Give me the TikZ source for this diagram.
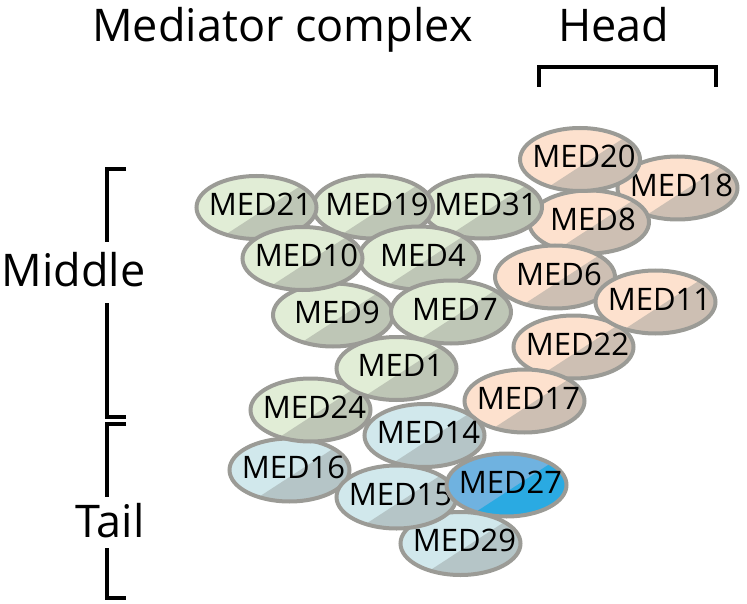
\documentclass[tikz,border=0pt]{standalone}
\usepackage{fontspec}
\setmainfont{Open Sans}
\usetikzlibrary{shapes.geometric}

\definecolor{rim}{HTML}{9B9B96}
\definecolor{greenL}{HTML}{E1EDD6}
\definecolor{greenD}{HTML}{BEC6B6}
\definecolor{peachL}{HTML}{FDE1CE}
\definecolor{peachD}{HTML}{CDBFB3}
\definecolor{blueL}{HTML}{D1E8EC}
\definecolor{blueD}{HTML}{B5C5C7}
\definecolor{deepL}{HTML}{6FB2E0}
\definecolor{deepD}{HTML}{2AAAE2}

\newcommand\medfont{\fontsize{31}{36}\selectfont}
\newcommand\bigfont{\fontsize{45}{52}\selectfont}

\tikzset{
  blob/.style={ellipse, draw=rim, line width=4pt,
    minimum width=120pt, minimum height=63pt,
    inner xsep=-20pt, inner ysep=0pt, text depth=6pt, font=\medfont},
  heading/.style={anchor=base, font=\bigfont},
  bracket/.style={line width=4pt}
}

\begin{document}
\begin{tikzpicture}[x=1pt, y=-1pt]
    \useasboundingbox (0,0) rectangle (747,604);

    % Titles
    \node[heading] (title) at (282.5,42) {Mediator complex};
    \node[heading] (head) at (614,42) {Head};
    \node[heading] (middle) at (73.5,287) {Middle};
    \node[heading] (tail) at (110,537) {Tail};

    % Brackets
    \draw[bracket] (538.5,87) -- (538.5,67) -- (716,67) -- (716,87);
    \draw[bracket] (126,169) -- (106.5,169) -- (106.5,242);
    \draw[bracket] (106.5,303) -- (106.5,416.5) -- (126,416.5);
    \draw[bracket] (126,423.5) -- (106.5,423.5) -- (106.5,497);
    \draw[bracket] (106.5,548) -- (106.5,598) -- (126,598);

    % Subunits, drawn back to front (light half up-left, dark half down-right)
    \foreach \n/\x/\y/\col in {18/677.5/188/peach, 8/589/222/peach,
        20/580/159.5/peach, 6/555/277/peach, 22/573.5/347/peach,
        11/655.5/302/peach, 17/524.5/401/peach,
        31/482/207/green, 19/373/207/green, 21/256.5/207.5/green,
        4/419/258/green, 9/333/315/green, 10/302.5/258.5/green,
        7/451/312/green, 16/289.5/470/blue, 24/310.5/410/green,
        1/396.5/368.5/green, 14/424.5/435.5/blue, 29/460.5/543.5/blue,
        15/396.5/497/blue, 27/506.5/485/deep} {
        \begin{scope}
            \clip (\x,\y) ellipse [x radius=60pt, y radius=31.5pt];
            \fill[\col L] ({\x-70},{\y-40}) rectangle ({\x+70},{\y+40});
            \fill[\col D] ({\x-100},{\y+72}) -- ({\x+100},{\y-58})
                -- ({\x+100},{\y+130}) -- ({\x-100},{\y+130}) -- cycle;
        \end{scope}
        \node[blob] (med\n) at (\x,\y) {\hspace*{8pt}MED\n};
    }
\end{tikzpicture}
\end{document}
